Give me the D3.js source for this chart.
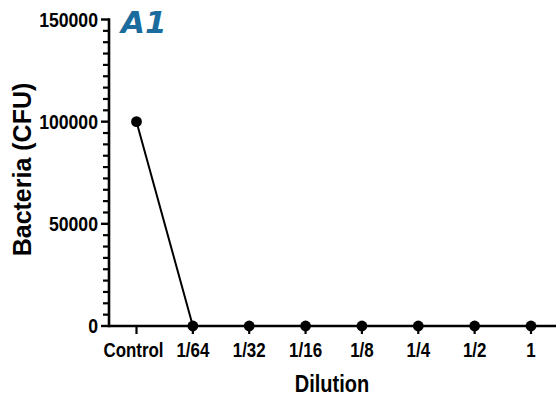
<!DOCTYPE html>
<html>
<head>
<meta charset="utf-8">
<script src="https://cdn.jsdelivr.net/npm/d3@7"></script>
<style>
  html, body { margin: 0; padding: 0; background: #fff; }
  svg { display: block; }
  text { font-family: "Liberation Sans", Arial, sans-serif; font-weight: 700; fill: #000; }
</style>
</head>
<body>
<svg id="chart" width="556" height="396"></svg>
<script>
const categories = ["Control", "1/64", "1/32", "1/16", "1/8", "1/4", "1/2", "1"];
const bacteria = [100000, 0, 0, 0, 0, 0, 0, 0];
const yTicks = [0, 50000, 100000, 150000];
const yLabels = ["0", "50000", "100000", "150000"];
const panelTitle = "A1";
const xTitle = "Dilution";
const yTitle = "Bacteria (CFU)";

const svg = d3.select("#chart");
const axisX = 109, axisY = 326;

const x = d3.scalePoint().domain(categories).range([136.5, 531]);
const y = d3.scaleLinear().domain([0, 150000]).range([326, 19.5]);

// minor ticks: 9 subdivisions per major interval (as in the reference)
const minor = [];
for (let i = 0; i < yTicks.length - 1; i++) {
  const step = (yTicks[i + 1] - yTicks[i]) / 9;
  for (let k = 1; k < 9; k++) minor.push(yTicks[i] + k * step);
}

const g = svg.append("g");

// Y axis
g.append("line").attr("x1", axisX).attr("x2", axisX)
  .attr("y1", y(150000) - 1.2).attr("y2", axisY + 1.2)
  .attr("stroke", "#000").attr("stroke-width", 2.6);
g.selectAll(".ymaj").data(yTicks).join("line")
  .attr("x1", axisX - 8).attr("x2", axisX)
  .attr("y1", d => y(d)).attr("y2", d => y(d))
  .attr("stroke", "#000").attr("stroke-width", 2.4);
g.selectAll(".ymin").data(minor).join("line")
  .attr("x1", axisX - 6).attr("x2", axisX)
  .attr("y1", d => y(d)).attr("y2", d => y(d))
  .attr("stroke", "#000").attr("stroke-width", 2.2);
g.selectAll(".ylab").data(yTicks).join("text")
  .attr("text-anchor", "end")
  .attr("font-size", 18)
  .attr("transform", d => `translate(98,${y(d) + 7.2}) scale(0.98,1.12)`)
  .text((d, i) => yLabels[i]);

// X axis
g.append("line").attr("x1", axisX).attr("x2", 556)
  .attr("y1", axisY).attr("y2", axisY)
  .attr("stroke", "#000").attr("stroke-width", 2.6);
g.selectAll(".xt").data(categories).join("line")
  .attr("x1", d => x(d)).attr("x2", d => x(d))
  .attr("y1", axisY).attr("y2", axisY + 8)
  .attr("stroke", "#000").attr("stroke-width", 2.2);
g.selectAll(".xlab").data(categories).join("text")
  .attr("text-anchor", "middle")
  .attr("font-size", 18)
  .attr("transform", d => `translate(${x(d) - (d === "Control" ? 3 : 0)},357) scale(0.94,1.12)`)
  .text(d => d);

// Axis titles
svg.append("text")
  .attr("text-anchor", "middle")
  .attr("font-size", 20)
  .attr("transform", "translate(332,392) scale(1,1.23)")
  .text(xTitle);
svg.append("text")
  .attr("text-anchor", "middle")
  .attr("font-size", 25)
  .attr("transform", "translate(31,169.5) rotate(-90)")
  .text(yTitle);

// Panel title
svg.append("text")
  .attr("x", 121).attr("y", 33)
  .attr("font-size", 31)
  .attr("font-style", "italic")
  .style("font-family", "'DejaVu Sans', sans-serif")
  .style("fill", "#1b6c9e")
  .text(panelTitle);

// Line + points
const data = categories.map((c, i) => ({ c, v: bacteria[i] }));
svg.append("path").datum(data)
  .attr("fill", "none").attr("stroke", "#000").attr("stroke-width", 2)
  .attr("d", d3.line().x(d => x(d.c)).y(d => y(d.v)));
svg.selectAll(".pt").data(data).join("circle")
  .attr("cx", d => x(d.c)).attr("cy", d => y(d.v))
  .attr("r", 5.4).attr("fill", "#000");
</script>
</body>
</html>
